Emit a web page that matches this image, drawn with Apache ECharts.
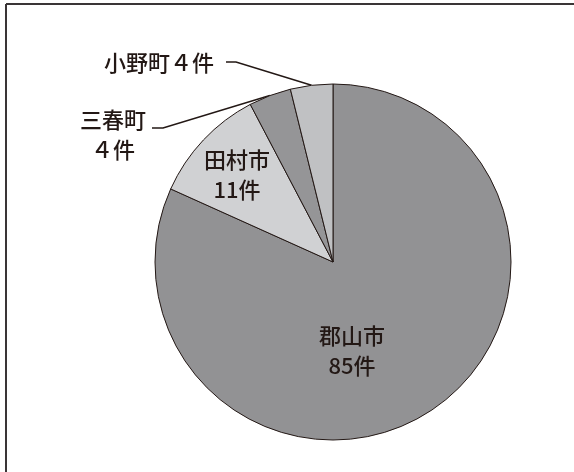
<!DOCTYPE html>
<html>
<head>
<meta charset="utf-8">
<script src="https://cdn.jsdelivr.net/npm/echarts@6/dist/echarts.min.js"></script>
<style>
html,body{margin:0;padding:0;background:#fff;}
#chart{width:574px;height:472px;}
</style>
</head>
<body>
<div id="chart"></div>
<script>
const categories = ['郡山市', '田村市', '三春町', '小野町'];
const values = [85, 11, 4, 4];
const valueTexts = ['85件', '11件', '４件', '４件'];

const sliceColors = ['#929294', '#d0d1d3', '#959597', '#c0c1c3'];
const ink = '#231815';
const font = '"Noto Sans CJK JP", "Noto Sans CJK SC", sans-serif';

// label anchor positions (layout only)
const labelPos = [
  {x: 352, y: 351},
  {x: 237, y: 175},
  {x: 113, y: 135, line: [[152, 128], [163, 128]]},
  {x: 159, y: 63, line: [[226, 62], [236, 62]]}
];

const chart = echarts.init(document.getElementById('chart'), null, {renderer: 'canvas'});

const data = categories.map((name, i) => ({
  name: name,
  value: values[i],
  itemStyle: {color: sliceColors[i]},
  label: {
    show: true,
    position: i < 2 ? 'inside' : 'outside',
    formatter: i === 3 ? name + valueTexts[i] : name + '\n' + valueTexts[i]
  },
  labelLine: {show: i >= 2}
}));

chart.setOption({
  animation: false,
  backgroundColor: '#ffffff',
  graphic: [
    {type: 'line', shape: {x1: 6, y1: 4, x2: 574, y2: 4}, style: {stroke: '#3a3536', lineWidth: 2}},
    {type: 'line', shape: {x1: 6, y1: 4, x2: 6, y2: 472}, style: {stroke: '#3a3536', lineWidth: 2}}
  ],
  series: [{
    type: 'pie',
    center: [333, 262],
    radius: 178,
    startAngle: 90,
    clockwise: true,
    avoidLabelOverlap: false,
    silent: true,
    itemStyle: {borderColor: ink, borderWidth: 1},
    label: {
      color: ink,
      fontFamily: font,
      fontSize: 22,
      fontWeight: 500,
      lineHeight: 30,
      align: 'center'
    },
    labelLine: {lineStyle: {color: ink, width: 1.5}, length: 20, length2: 10},
    labelLayout: function (params) {
      const p = labelPos[params.dataIndex];
      const res = {x: p.x, y: p.y, align: 'center', verticalAlign: 'middle'};
      if (p.line && params.labelLinePoints) {
        const edge = params.labelLinePoints[0];
        res.labelLinePoints = [edge, p.line[1], p.line[0]];
      }
      return res;
    },
    data: data
  }]
});
</script>
</body>
</html>
